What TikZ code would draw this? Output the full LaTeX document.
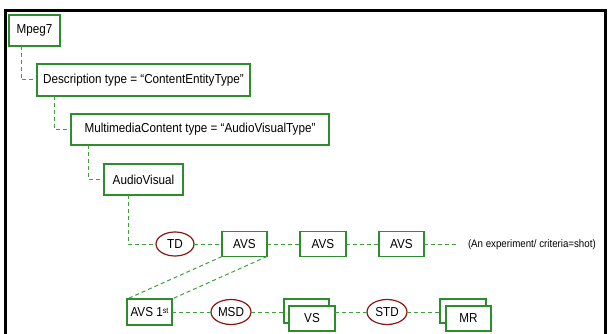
\documentclass[tikz,border=0pt]{standalone}
\usepackage{fontspec}
\setmainfont[FakeStretch=0.9]{Liberation Sans}
\usetikzlibrary{shapes.geometric}
\definecolor{boxgreen}{RGB}{46,139,46}
\definecolor{linkgreen}{RGB}{60,160,60}
\definecolor{ovalred}{RGB}{140,20,20}

\begin{document}
\begin{tikzpicture}[x=1pt,y=-1pt,
  every node/.style={font=\fontsize{13}{15}\selectfont, inner sep=0pt, outer sep=0pt},
  box/.style={draw=boxgreen, line width=1.3pt, fill=white, rectangle},
  oval/.style={draw=ovalred, line width=1.2pt, fill=white, ellipse},
  link/.style={draw=linkgreen, line width=1pt, dash pattern=on 4pt off 3pt},
]
\useasboundingbox (0,0) rectangle (608,334);

% frame
\draw[line width=3pt, line join=miter] (5,340) |- (605.5,10.7) -- (605.5,340);

% hierarchy
\node[box, minimum width=51pt, minimum height=31pt] (mpeg) at (34.5,30.5) {Mpeg7};
\node[box, minimum width=213pt, minimum height=32pt] (desc) at (143.5,80) {Description type = “ContentEntityType”};
\node[box, minimum width=258pt, minimum height=31pt] (mc) at (200,129.5) {MultimediaContent type = “AudioVisualType”};
\node[box, minimum width=79pt, minimum height=31pt] (av) at (143.5,179.5) {AudioVisual};

% temporal decomposition row
\node[oval, minimum width=38pt, minimum height=24pt] (td) at (175,244) {TD};
\node[box, minimum width=45pt, minimum height=25pt] (avsA) at (244.5,244) {AVS};
\node[box, minimum width=46pt, minimum height=25pt] (avsB) at (323,244) {AVS};
\node[box, minimum width=45pt, minimum height=25pt] (avsC) at (401.5,244) {AVS};
\coordinate (more) at (457,244);
\node[anchor=west, font=\fontsize{10.8}{12}\selectfont] (note) at (468,245) {(An experiment/ criteria=shot)};

% media source row
\node[box, minimum width=45pt, minimum height=26pt] (avsfirst) at (149.5,312) {AVS 1\raisebox{2.5pt}{\fontsize{8}{8}\selectfont st}};
\node[oval, minimum width=40pt, minimum height=25pt] (msd) at (231,312) {MSD};
\node[box, minimum width=45pt, minimum height=24pt] (vsback) at (306.5,311) {};
\node[box, minimum width=46pt, minimum height=25pt] (vsfront) at (312,318.5) {VS};
\node[oval, minimum width=40pt, minimum height=25pt] (std) at (387,312) {STD};
\node[box, minimum width=46pt, minimum height=24pt] (mrback) at (463,311) {};
\node[box, minimum width=45pt, minimum height=25pt] (mrfront) at (468.5,318.5) {MR};

% connectors
\draw[link] ([xshift=12pt]mpeg.south west) |- (desc.west);
\draw[link] ([xshift=17pt]desc.south west) |- (mc.west);
\draw[link] ([xshift=17pt]mc.south west) |- (av.west);
\draw[link] ([xshift=24pt]av.south west) |- (td.west);
\draw[link] (td.east) -- (avsA.west);
\draw[link] (avsA.east) -- (avsB.west);
\draw[link] (avsB.east) -- (avsC.west);
\draw[link] (avsC.east) -- (more);
\draw[link] (avsA.south west) -- (avsfirst.north west);
\draw[link] (avsA.south east) -- (avsfirst.north east);
\draw[link] (avsfirst.east) -- (msd.west);
\draw[link] (msd.east) -- (msd.east -| vsback.west);
\draw[link] (std.west -| vsfront.east) -- (std.west);
\draw[link] (std.east) -- (std.east -| mrback.west);
\end{tikzpicture}
\end{document}
